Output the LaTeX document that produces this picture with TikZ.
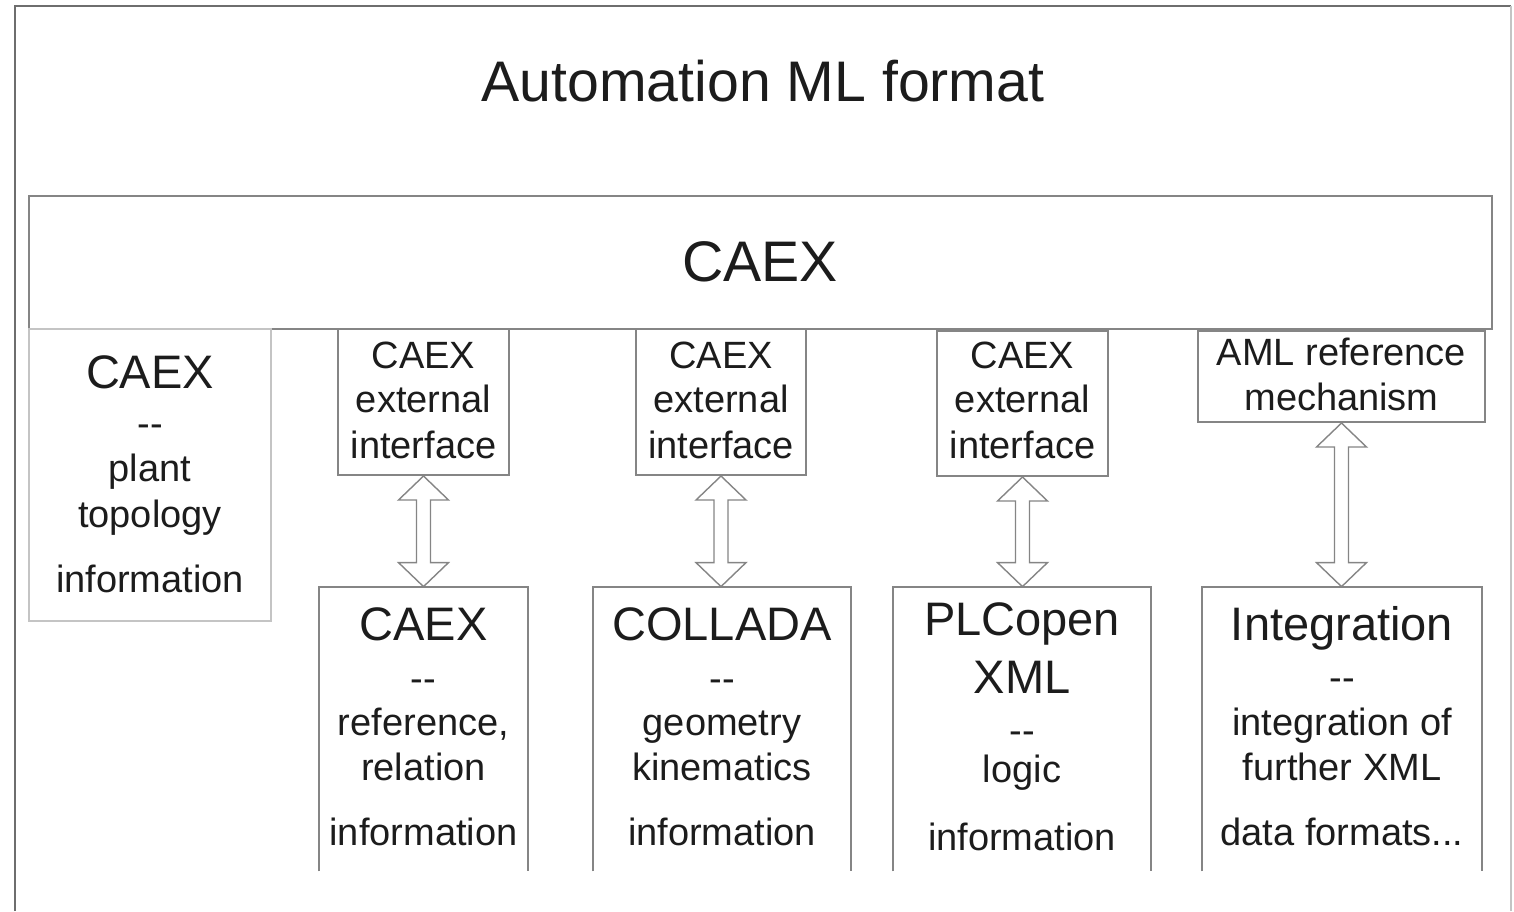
\documentclass[tikz,border=0pt]{standalone}
\usepackage{fontspec}
\setmainfont{Liberation Sans}
\usetikzlibrary{calc,fit}
\definecolor{frame}{HTML}{6E6E6E}
\definecolor{edge}{HTML}{858585}
\definecolor{pale}{HTML}{C4C4C4}
\definecolor{ink}{HTML}{1C1C1C}

% hollow two-headed arrow between two anchors (tip to tip)
\newcommand\hollowarrow[2]{%
  \draw[dbl] (#1) -- ++(25,24) -- ++(-18,0) -- ($(#2)+(7,-24)$) -- ++(18,0)
    -- (#2) -- ++(-25,-24) -- ++(18,0) -- ($(#1)+(-7,24)$) -- ++(-18,0) -- cycle;}

\begin{document}
\begin{tikzpicture}[x=0.5pt,y=-0.5pt,
  box/.style={draw=edge, line width=1pt, inner sep=0pt, fill=white},
  openbox/.style={inner sep=0pt},
  lbl/.style={text=ink, inner sep=0pt, anchor=base},
  big/.style={lbl, font=\fontsize{28.6}{30}\selectfont},
  head/.style={lbl, font=\fontsize{23.5}{26}\selectfont},
  body/.style={lbl, font=\fontsize{19}{21}\selectfont},
  dbl/.style={draw=edge, line width=0.7pt, fill=white, line join=miter}]

\useasboundingbox (0,0) rectangle (1514,911);

% outer frame (open at the bottom)
\draw[frame, line width=1pt] (15,911) -- (15,6) -- (1511,6);
\draw[pale, line width=1pt] (1511,6) -- (1511,911);

\node[big] (title) at (763,101) {Automation ML format};

% CAEX band
\node[box, fit={(29,196) (1492,329)}] (caex) {};
\node[big] (caext) at (760,281) {CAEX};

% left column: plant topology
\node[box, draw=pale, fit={(29,329) (271,621)}] (topo) {};
\node[head] (topo1) at (150,388) {CAEX};
\node[body] (topo2) at (150,436) {-{}-};
\node[body] (topo3) at (150,481) {plant};
\node[body] (topo4) at (150,527) {topology};
\node[body] (topo5) at (150,592) {information};

% interface boxes under the CAEX band
\node[box, fit={(338,329) (509,475)}] (if1) {};
\node[box, fit={(636,329) (806,475)}] (if2) {};
\node[box, fit={(937,331) (1108,476)}] (if3) {};
\node[box, fit={(1198,331) (1485,422)}] (aml) {};

\foreach \n/\x in {if1/423.5, if2/721, if3/1022.5} {
  \node[body] (\n a) at (\x,368) {CAEX};
  \node[body] (\n b) at (\x,412) {external};
  \node[body] (\n c) at (\x,458) {interface};
}
\node[body] (amla) at (1341.5,365) {AML reference};
\node[body] (amlb) at (1341.5,410) {mechanism};

% data format boxes (open at the bottom)
\node[openbox, fit={(319,587) (528,871)}] (fmt1) {};
\node[openbox, fit={(593,587) (851,871)}] (fmt2) {};
\node[openbox, fit={(893,587) (1151,871)}] (fmt3) {};
\node[openbox, fit={(1202,587) (1482,871)}] (fmt4) {};
\foreach \n in {fmt1,fmt2,fmt3,fmt4}
  \draw[edge, line width=1pt] (\n.south west) -- (\n.north west) -- (\n.north east) -- (\n.south east);

\node[head] (fmt1a) at (423.5,640) {CAEX};
\node[body] (fmt1b) at (423.5,691) {-{}-};
\node[body] (fmt1c) at (423.5,735) {reference,};
\node[body] (fmt1d) at (423.5,780) {relation};
\node[body] (fmt1e) at (423.5,845) {information};

\node[head] (fmt2a) at (722,640) {COLLADA};
\node[body] (fmt2b) at (722,691) {-{}-};
\node[body] (fmt2c) at (722,735) {geometry};
\node[body] (fmt2d) at (722,780) {kinematics};
\node[body] (fmt2e) at (722,845) {information};

\node[head] (fmt3a) at (1022,635) {PLCopen};
\node[head] (fmt3b) at (1022,693) {XML};
\node[body] (fmt3c) at (1022,743) {-{}-};
\node[body] (fmt3d) at (1022,782) {logic};
\node[body] (fmt3e) at (1022,850) {information};

\node[head] (fmt4a) at (1342,640) {Integration};
\node[body] (fmt4b) at (1342,690) {-{}-};
\node[body] (fmt4c) at (1342,735) {integration of};
\node[body] (fmt4d) at (1342,780) {further XML};
\node[body] (fmt4e) at (1342,845) {data formats...};

% links between interfaces and formats
\hollowarrow{if1.south}{if1.south |- fmt1.north}
\hollowarrow{if2.south}{if2.south |- fmt2.north}
\hollowarrow{if3.south}{if3.south |- fmt3.north}
\hollowarrow{aml.south}{aml.south |- fmt4.north}
\end{tikzpicture}
\end{document}
